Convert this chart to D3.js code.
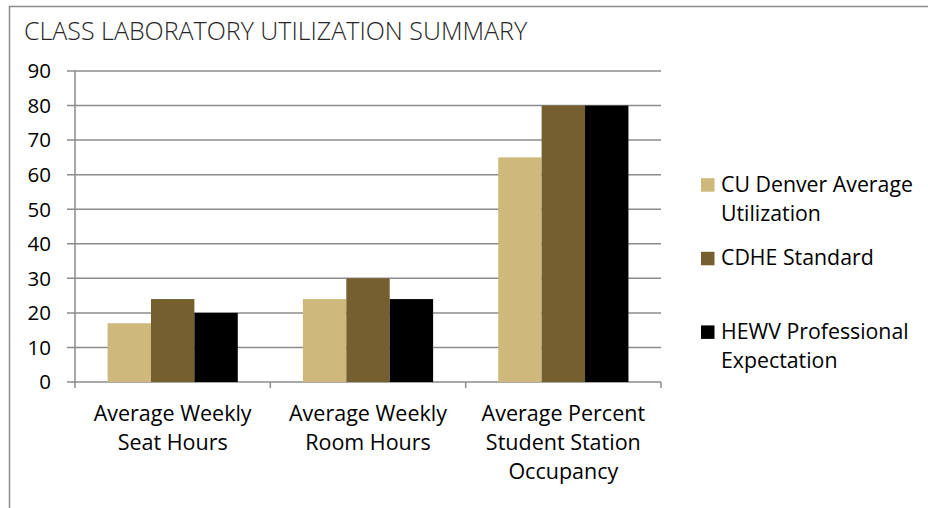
<!DOCTYPE html>
<html>
<head>
<meta charset="utf-8">
<script src="https://cdn.jsdelivr.net/npm/d3@7"></script>
<style>
  body { margin: 0; background: #fff; }
  svg { display: block; font-family: 'Open Sans', sans-serif; }
</style>
</head>
<body>
<svg id="chart" width="928" height="508"></svg>
<script>
const categories = ['Average Weekly Seat Hours', 'Average Weekly Room Hours', 'Average Percent Student Station Occupancy'];
const categoryLines = [['Average Weekly', 'Seat Hours'], ['Average Weekly', 'Room Hours'], ['Average Percent', 'Student Station', 'Occupancy']];
const seriesNames = ['CU Denver Average Utilization', 'CDHE Standard', 'HEWV Professional Expectation'];
const legendLines = [['CU Denver Average', 'Utilization'], ['CDHE Standard'], ['HEWV Professional', 'Expectation']];
const cuDenver = [17, 24, 65];
const cdhe = [24, 30, 80];
const hewv = [20, 24, 80];
const yTicks = [0, 10, 20, 30, 40, 50, 60, 70, 80, 90];
const colors = ['#CFB87C', '#765F2E', '#000000'];

const values = [cuDenver, cdhe, hewv];

const svg = d3.select('#chart');

// outer chart border (runs off the right and bottom of the picture)
svg.append('rect')
  .attr('x', 9.5).attr('y', 6.5)
  .attr('width', 1000).attr('height', 1000)
  .attr('fill', 'none')
  .attr('stroke', '#8c8c8c')
  .attr('stroke-width', 1.5);

svg.append('text')
  .attr('x', 24).attr('y', 40)
  .attr('font-size', 25)
  .attr('font-weight', 300)
  .attr('fill', '#262626')
  .text('CLASS LABORATORY UTILIZATION SUMMARY');

const plot = { left: 75, right: 661, top: 71, bottom: 382 };

const x = d3.scaleBand().domain(categories).range([plot.left, plot.right]);
const xs = d3.scaleBand().domain(d3.range(seriesNames.length))
  .range([0, x.bandwidth()]).paddingInner(0).paddingOuter(0.75);
const y = d3.scaleLinear().domain([0, 90]).range([plot.bottom, plot.top]);

// gridlines + y tick marks
svg.append('g')
  .selectAll('line')
  .data(yTicks)
  .join('line')
    .attr('x1', plot.left - 8).attr('x2', plot.right)
    .attr('y1', d => y(d)).attr('y2', d => y(d))
    .attr('stroke', '#8c8c8c')
    .attr('stroke-width', 1.5);

// bars
svg.append('g')
  .selectAll('g')
  .data(values)
  .join('g')
    .attr('fill', (d, i) => colors[i])
  .selectAll('rect')
  .data((d, i) => d.map((v, j) => ({ s: i, c: categories[j], v })))
  .join('rect')
    .attr('x', d => x(d.c) + xs(d.s))
    .attr('width', xs.bandwidth())
    .attr('y', d => y(d.v))
    .attr('height', d => y(0) - y(d.v));

// y axis line
svg.append('line')
  .attr('x1', plot.left).attr('x2', plot.left)
  .attr('y1', plot.top).attr('y2', plot.bottom + 6)
  .attr('stroke', '#8c8c8c')
  .attr('stroke-width', 1.5);

// x axis category ticks
svg.append('g')
  .selectAll('line')
  .data(categories.slice(1).concat(['end']))
  .join('line')
    .attr('x1', d => d === 'end' ? plot.right : x(d))
    .attr('x2', d => d === 'end' ? plot.right : x(d))
    .attr('y1', plot.bottom).attr('y2', plot.bottom + 6)
    .attr('stroke', '#8c8c8c')
    .attr('stroke-width', 1.5);

// y tick labels
svg.append('g')
  .selectAll('text')
  .data(yTicks)
  .join('text')
    .attr('x', 51)
    .attr('y', d => y(d))
    .attr('dy', '0.36em')
    .attr('text-anchor', 'end')
    .attr('font-size', 20.5)
    .attr('fill', '#000')
    .text(d => d);

// category labels
svg.append('g')
  .selectAll('text')
  .data(categories)
  .join('text')
    .attr('x', d => x(d) + x.bandwidth() / 2)
    .attr('y', 421)
    .attr('text-anchor', 'middle')
    .attr('font-size', 21.5)
    .attr('fill', '#000')
  .selectAll('tspan')
  .data((d, i) => categoryLines[i])
  .join('tspan')
    .attr('x', function () { return this.parentNode.getAttribute('x'); })
    .attr('dy', (d, i) => i === 0 ? 0 : 29)
    .text(d => d);

// legend
const legend = svg.append('g')
  .selectAll('g')
  .data(seriesNames)
  .join('g')
    .attr('transform', (d, i) => `translate(701,${191.7 + i * 73.6})`);

legend.append('rect')
  .attr('x', 0).attr('y', -13.5)
  .attr('width', 13.5).attr('height', 13.5)
  .attr('fill', (d, i) => colors[i]);

legend.append('text')
  .attr('x', 20).attr('y', 0)
  .attr('font-size', 21.3)
  .attr('fill', '#000')
  .selectAll('tspan')
  .data((d, i) => legendLines[i])
  .join('tspan')
    .attr('x', 20)
    .attr('dy', (d, i) => i === 0 ? 0 : 29.5)
    .text(d => d);
</script>
</body>
</html>
